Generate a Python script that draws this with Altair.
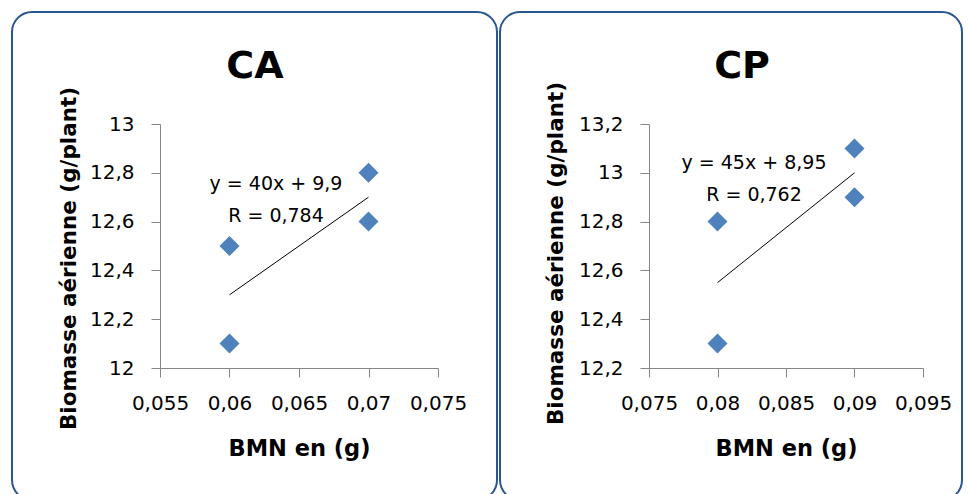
import altair as alt
import pandas as pd

# ---- data ----
ca_x = [0.06, 0.06, 0.07, 0.07]
ca_y = [12.5, 12.1, 12.8, 12.6]
cp_x = [0.08, 0.08, 0.09, 0.09]
cp_y = [12.8, 12.3, 13.1, 12.9]

ca_x_ticks = [0.055, 0.06, 0.065, 0.07, 0.075]
ca_y_ticks = [12, 12.2, 12.4, 12.6, 12.8, 13]
cp_x_ticks = [0.075, 0.08, 0.085, 0.09, 0.095]
cp_y_ticks = [12.2, 12.4, 12.6, 12.8, 13, 13.2]

panel_titles = ["CA", "CP"]
equations = ["y = 40x + 9,9", "y = 45x + 8,95"]
r_texts = ["R = 0,784", "R = 0,762"]
x_title = "BMN en (g)"
y_title = "Biomasse aérienne (g/plant)"

FONT = "DejaVu Sans"
LBL = "replace(format(datum.value, '~g'), '.', ',')"
AXIS_GRAY = "#868686"
BORDER = "#2B5592"
MARKER = "#4F81BD"


def panel(xs, ys, xt, yt, title, eq, rtxt, w, h, g):
    df = pd.DataFrame({"x": xs, "y": ys})
    x_enc = alt.X(
        "x:Q",
        scale=alt.Scale(domain=[xt[0], xt[-1]], nice=False, zero=False),
        axis=alt.Axis(
            values=xt, labelExpr=LBL, grid=False, labelFlush=False, labelOverlap=False,
            domainColor=AXIS_GRAY, tickColor=AXIS_GRAY, tickSize=9,
            labelFont=FONT, labelFontSize=20, labelColor="black", labelPadding=16,
            title=x_title, titleFont=FONT, titleFontSize=22.5, titleFontWeight="bold",
            titleColor="black", titleX=w / 2, titleY=87, titleAlign="center",
            titleBaseline="alphabetic",
        ),
    )
    y_enc = alt.Y(
        "y:Q",
        scale=alt.Scale(domain=[yt[0], yt[-1]], nice=False, zero=False),
        axis=alt.Axis(
            values=yt, labelExpr=LBL, grid=False, labelFlush=False, labelOverlap=False,
            domainColor=AXIS_GRAY, tickColor=AXIS_GRAY, tickSize=9,
            labelFont=FONT, labelFontSize=20, labelColor="black", labelPadding=17,
            title=y_title, titleFont=FONT, titleFontSize=21.5, titleFontWeight="bold",
            titleColor="black", titleAngle=270, titleX=g["ytx"], titleY=g["yty"],
            titleAlign="center", titleBaseline="alphabetic",
        ),
    )

    border = alt.Chart(pd.DataFrame({"k": [0]})).mark_rect(
        fillOpacity=0, stroke=BORDER, strokeWidth=2, cornerRadius=20
    ).encode(
        x=alt.value(g["bx1"]), x2=alt.value(g["bx2"]),
        y=alt.value(g["by1"]), y2=alt.value(g["by2"]),
    )

    pts = alt.Chart(df).mark_point(
        shape="diamond", filled=True, size=400, color=MARKER, opacity=1
    ).encode(x=x_enc, y=y_enc)

    trend = alt.Chart(df).transform_regression("x", "y").mark_line(
        color="black", strokeWidth=1
    ).encode(x=x_enc, y=y_enc)

    ttl = alt.Chart(pd.DataFrame({"t": [title]})).mark_text(
        font=FONT, fontSize=38, fontWeight="bold", color="black",
        align="center", baseline="alphabetic"
    ).encode(text="t:N", x=alt.value(g["tx"]), y=alt.value(-46))

    eq1 = alt.Chart(pd.DataFrame({"t": [eq]})).mark_text(
        font=FONT, fontSize=19, color="black", align="center", baseline="alphabetic"
    ).encode(text="t:N", x=alt.value(g["ex"]), y=alt.value(g["ey"]))

    eq2 = alt.Chart(pd.DataFrame({"t": [rtxt]})).mark_text(
        font=FONT, fontSize=19, color="black", align="center", baseline="alphabetic"
    ).encode(text="t:N", x=alt.value(g["ex"]), y=alt.value(g["ey"] + 32))

    return alt.layer(border, trend, pts, ttl, eq1, eq2).properties(
        width=w, height=h,
        view=alt.ViewBackground(stroke="transparent", strokeWidth=0),
    )


left = panel(ca_x, ca_y, ca_x_ticks, ca_y_ticks, panel_titles[0], equations[0], r_texts[0],
             278, 244,
             dict(bx1=-148, bx2=337, by1=-112, by2=376, tx=95, ex=116, ey=66,
                  ytx=-85, yty=134))
right = panel(cp_x, cp_y, cp_x_ticks, cp_y_ticks, panel_titles[1], equations[1], r_texts[1],
              274, 244,
              dict(bx1=-149, bx2=313, by1=-112, by2=376, tx=93, ex=105, ey=45,
                   ytx=-87, yty=129))

chart = alt.hconcat(left, right, spacing=1).properties(
    padding={"left": 3, "top": 3, "right": 0, "bottom": 0}
).configure_view(stroke="transparent", strokeWidth=0).configure(background="white")

chart.save("out.html", embed_options={"renderer": "svg", "actions": False})
